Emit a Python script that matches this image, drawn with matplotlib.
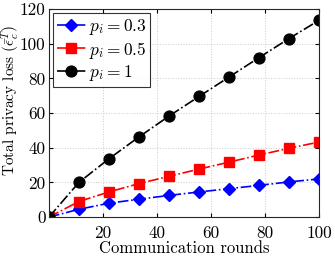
import matplotlib
matplotlib.use("Agg")
import matplotlib.pyplot as plt
import numpy as np

plt.rcParams['font.family'] = 'serif'
plt.rcParams['font.serif'] = ['cmr10', 'DejaVu Serif']
plt.rcParams['mathtext.fontset'] = 'cm'
plt.rcParams['axes.unicode_minus'] = False

rounds = [0, 11.1, 22.2, 33.3, 44.4, 55.6, 66.7, 77.8, 88.9, 100]
loss_p03 = [0, 4.5, 8.0, 10.3, 12.5, 14.5, 16.4, 18.3, 20.3, 22.0]
loss_p05 = [0, 9.0, 14.5, 19.3, 23.5, 27.7, 31.7, 35.8, 39.7, 43.3]
loss_p1 = [0, 20.0, 33.6, 46.2, 58.2, 69.6, 80.8, 92.0, 103.0, 113.5]

labels = [r'$p_i = 0.3$', r'$p_i = 0.5$', r'$p_i = 1$']
xticks = [20, 40, 60, 80, 100]
yticks = [0, 20, 40, 60, 80, 100, 120]

fig = plt.figure(figsize=(3.35, 2.6), dpi=100)
ax = fig.add_axes([0.146, 0.165, 0.806, 0.8])

ax.plot(rounds, loss_p03, linestyle='-.', color='blue', marker='D', markersize=6.5,
        linewidth=1.2, label=labels[0])
ax.plot(rounds, loss_p05, linestyle='-.', color='red', marker='s', markersize=6.5,
        linewidth=1.2, label=labels[1])
ax.plot(rounds, loss_p1, linestyle='-.', color='black', marker='o', markersize=7.8,
        linewidth=1.2, label=labels[2])

ax.set_xlim(0, 100)
ax.set_ylim(0, 120)
ax.set_xticks(xticks)
ax.set_yticks(yticks)
ax.tick_params(direction='in', labelsize=12.3, length=3, top=True, right=True)
ax.tick_params(axis='x', pad=6)
ax.tick_params(axis='y', pad=2.5)
ax.grid(True, linestyle=':', color='#cccccc', linewidth=0.7)
for s in ax.spines.values():
    s.set_color('#262626')
    s.set_linewidth(0.8)

ax.set_xlabel('Communication rounds', fontsize=12, labelpad=0)
ax.set_ylabel(r'Total privacy loss $(\bar{\epsilon}_c^{T})$', fontsize=11, va='center')
ax.yaxis.set_label_coords(-0.14, 0.56)

leg = ax.legend(loc='upper left', fontsize=12.5, frameon=True, fancybox=False,
                edgecolor='black', borderpad=0.2, labelspacing=0.15,
                handlelength=1.7, handletextpad=0.15, borderaxespad=0.25)
leg.get_frame().set_linewidth(0.8)

fig.savefig('out.png', dpi=100)
